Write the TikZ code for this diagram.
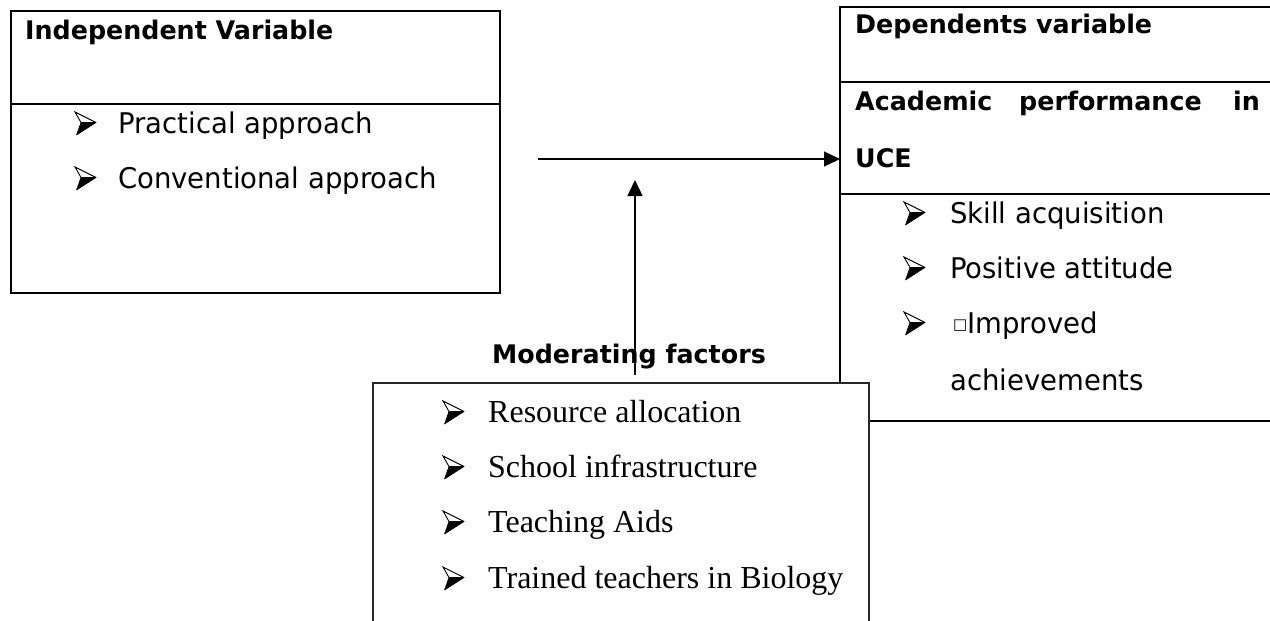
\documentclass[tikz,border=0pt]{standalone}
\usepackage{fontspec}
\usetikzlibrary{arrows.meta}
\newfontfamily\hdfont[FakeStretch=0.99]{DejaVu Sans Bold}
\newfontfamily\bdfont[FakeStretch=0.965]{DejaVu Sans}
\newfontfamily\sffnt{Liberation Serif}
\newfontfamily\symfont{DejaVu Sans}
\tikzset{
  boxline/.style={draw=black, line width=1.8pt},
  head/.style={anchor=base west, inner sep=0pt, font=\hdfont\fontsize{25.6}{30}\selectfont},
  body/.style={anchor=base west, inner sep=0pt, font=\bdfont\fontsize{28.5}{34}\selectfont},
  sbody/.style={anchor=base west, inner sep=0pt, font=\sffnt\fontsize{32}{36}\selectfont},
  conn/.style={line width=1.4pt, -{Triangle[length=16pt,width=15pt]}},
  arrbul/.pic={
    \filldraw[fill=black, draw=black, line width=0.6pt, line join=round] (6,-10.5) -- (21,-10.5) -- (1.5,2) -- cycle;
    \draw[line width=0.9pt, line join=miter] (21,-10.5) -- (0,-21) -- (6,-10.5);
  },
}
\begin{document}
\begin{tikzpicture}[x=1pt, y=-1pt]
\useasboundingbox (0,0) rectangle (1270,621);
\clip (0,0) rectangle (1270,621);
\fill[white] (0,0) rectangle (1270,621);
% left box
\node[boxline, anchor=north west, minimum width=489pt, minimum height=282pt, inner sep=0pt, outer sep=0pt] (ibox) at (11,11) {};
\draw[boxline] (ibox.west |- 0,104) -- (ibox.east |- 0,104);
\node[head] (ih) at (25,39) {Independent Variable};
\pic at (75,133) {arrbul};
\node[body] (i1) at (118,133) {Practical approach};
\pic at (75,188) {arrbul};
\node[body] (i2) at (118,188) {Conventional approach};
% right box
\node[boxline, anchor=north west, minimum width=460pt, minimum height=414pt, inner sep=0pt, outer sep=0pt] (dbox) at (840,7) {};
\draw[boxline] (dbox.west |- 0,82) -- (dbox.east |- 0,82);
\draw[boxline] (dbox.west |- 0,194) -- (dbox.east |- 0,194);
\node[head] (dh) at (855,33) {Dependents variable};
\node[head] (da1) at (855,110) {Academic};
\node[head] (da2) at (1019,110) {performance};
\node[head, anchor=base east] (da3) at (1260,110) {in};
\node[head] (da4) at (855,167) {UCE};
\pic at (904,223) {arrbul};
\node[body] (d1) at (950,223) {Skill acquisition};
\pic at (904,278) {arrbul};
\node[body] (d2) at (950,278) {Positive attitude};
\pic at (904,333) {arrbul};
\node[body] (d3) at (953,333) {\raisebox{3.5pt}{\symfont\fontsize{15}{18}\selectfont □}Improved};
\node[body] (d4) at (950,390) {achievements};
% moderating box
\node[draw=black!85, fill=white, line width=1.8pt, anchor=north west, minimum width=496pt, minimum height=280pt, inner sep=0pt, outer sep=0pt] (mbox) at (373,383) {};
\node[head] (mh) at (492,363) {Moderating factors};
\pic at (443,422) {arrbul};
\node[sbody] (m1) at (488,422) {Resource allocation};
\pic at (443,477) {arrbul};
\node[sbody] (m2) at (488,477) {School infrastructure};
\pic at (443,532) {arrbul};
\node[sbody] (m3) at (488,532) {Teaching Aids};
\pic at (443,588) {arrbul};
\node[sbody] (m4) at (488,588) {Trained teachers in Biology};
% connectors
\coordinate (hs) at (538,159);
\coordinate (vs) at (635,375);
\coordinate (vt) at (635,180);
\draw[conn] (hs) -- (dbox.west |- hs);
\draw[conn] (vs) -- (vt);
\end{tikzpicture}
\end{document}
